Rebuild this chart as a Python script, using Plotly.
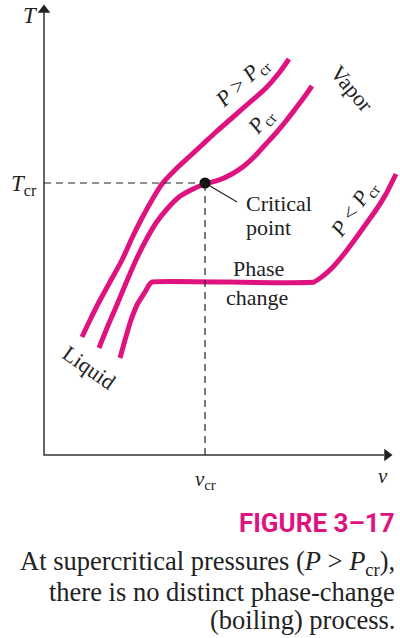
import plotly.graph_objects as go

# ---- data (v, T in arbitrary units; origin at the axis corner) ----
v_super = [3.8, 4.7, 5.5, 6.7, 7.8, 8.8, 9.8, 10.8, 11.8, 13.2, 14.5, 15.8, 17.2, 18.8, 20.5, 22.2, 23.5, 24.5]
T_super = [11.8, 13.7, 15.3, 17.5, 19.5, 21.7, 23.7, 25.5, 27.1, 28.6, 29.8, 31.0, 32.3, 33.7, 35.2, 36.7, 38.2, 39.6]

v_crit = [5.5, 6.3, 7.2, 8.2, 9.2, 10.2, 11.2, 12.3, 13.5, 14.7, 16.1, 17.5, 18.8, 20.0, 21.0, 22.1, 23.2, 24.2, 25.2, 26.1, 26.8]
T_crit = [10.7, 12.7, 14.8, 17.2, 19.5, 21.5, 23.2, 24.6, 25.8, 26.5, 27.1, 27.5, 28.1, 28.9, 29.8, 31.0, 32.2, 33.4, 34.7, 35.9, 36.9]

v_sub = [7.6, 8.1, 8.7, 9.4, 10.1, 10.5, 10.8, 27.0, 27.9, 28.8, 30.0, 31.2, 32.2, 33.2, 34.2, 35.2]
T_sub = [9.7, 11.5, 13.5, 15.2, 16.3, 17.0, 17.3, 17.3, 17.9, 18.7, 20.1, 21.7, 23.1, 24.5, 26.1, 28.1]

v_cr, T_cr = 16.1, 27.2
leader_v = [16.1, 19.3]
leader_T = [27.2, 25.3]

axis_v = [0, 0, 34.0]        # vertical axis top, corner, horizontal axis end
axis_T = [44.3, 0, 0]
arrow_v = [0, 34.3]
arrow_T = [44.5, 0]

caption_lines = [
    "At supercritical pressures (<i>P</i> > <i>P</i><sub>cr</sub>),",
    "there is no distinct phase-change",
    "(boiling) process.",
]
figure_label = "FIGURE 3\u201317"

MAGENTA = "#DE1380"
SERIF = "Liberation Serif, Times New Roman, serif"

fig = go.Figure()
for vv, tt in [(v_super, T_super), (v_crit, T_crit)]:
    fig.add_trace(go.Scatter(x=vv, y=tt, mode="lines",
                             line=dict(color=MAGENTA, width=5, shape="spline", smoothing=0.8),
                             hoverinfo="skip"))
fig.add_trace(go.Scatter(x=v_sub, y=T_sub, mode="lines",
                         line=dict(color=MAGENTA, width=5, shape="spline", smoothing=0.4),
                         hoverinfo="skip"))
fig.add_trace(go.Scatter(x=leader_v, y=leader_T, mode="lines",
                         line=dict(color="#222", width=1.2), hoverinfo="skip"))
fig.add_trace(go.Scatter(x=[v_cr], y=[T_cr], mode="markers",
                         marker=dict(color="#111", size=11), hoverinfo="skip"))

# axes with arrowheads
fig.add_trace(go.Scatter(x=axis_v, y=axis_T, mode="lines",
                         line=dict(color="#333", width=1.5), hoverinfo="skip"))
fig.add_trace(go.Scatter(x=arrow_v, y=arrow_T, mode="markers",
                         marker=dict(color="#222", size=11, symbol=["triangle-up", "triangle-right"]),
                         hoverinfo="skip"))

# dashed guide lines
fig.add_shape(type="line", x0=0, x1=v_cr, y0=T_cr, y1=T_cr,
              line=dict(color="#222", width=1.2, dash="7px,5px"))
fig.add_shape(type="line", x0=v_cr, x1=v_cr, y0=0, y1=T_cr,
              line=dict(color="#222", width=1.2, dash="7px,5px"))


def lab(x, y, text, size=22, angle=0, xanchor="center", family=SERIF, color="#222"):
    fig.add_annotation(x=x, y=y, xref="x", yref="y", text=text, showarrow=False,
                       textangle=angle, xanchor=xanchor, yanchor="middle",
                       font=dict(family=family, size=size, color=color))


lab(-1.4, 44.0, "<i>T</i>", size=23)
lab(-2.0, 27.0, "<i>T</i><sub>cr</sub>", size=23)
lab(16.1, -2.5, "<i>v</i><sub>cr</sub>", size=21)
lab(33.9, -2.1, "<i>v</i>", size=21)
lab(19.8, 37.2, "<i>P</i> > <i>P</i><sub>cr</sub>", angle=-43)
lab(21.7, 33.3, "<i>P</i><sub>cr</sub>", angle=-50)
lab(30.8, 36.7, "Vapor", angle=50)
lab(20.0, 25.2, "Critical", xanchor="left")
lab(20.0, 22.8, "point", xanchor="left")
lab(21.4, 18.7, "Phase")
lab(21.3, 15.8, "change")
lab(31.0, 24.5, "<i>P</i> < <i>P</i><sub>cr</sub>", angle=-55)
lab(4.5, 8.8, "Liquid", angle=35)

fig.add_annotation(x=397 / 400, y=1 - 523 / 638, xref="paper", yref="paper",
                   text="<b>" + figure_label + "</b>",
                   showarrow=False, xanchor="right", yanchor="middle",
                   font=dict(family="Roboto, sans-serif", size=26, color=MAGENTA))
caption_y = [563, 592, 620]
for line, yy in zip(caption_lines, caption_y):
    fig.add_annotation(x=397 / 400, y=1 - yy / 638, xref="paper", yref="paper", text=line,
                       showarrow=False, xanchor="right", yanchor="middle",
                       font=dict(family=SERIF, size=26.5, color="#222"))

fig.update_layout(
    width=400, height=638, margin=dict(l=0, r=0, t=0, b=0),
    paper_bgcolor="white", plot_bgcolor="white", showlegend=False,
    xaxis=dict(range=[-4.4, 35.6], visible=False, fixedrange=True),
    yaxis=dict(range=[-18.3, 45.5], visible=False, fixedrange=True),
)
fig.write_html("out.html", config={"displayModeBar": False},
               post_script="document.body.style.margin='0';")
